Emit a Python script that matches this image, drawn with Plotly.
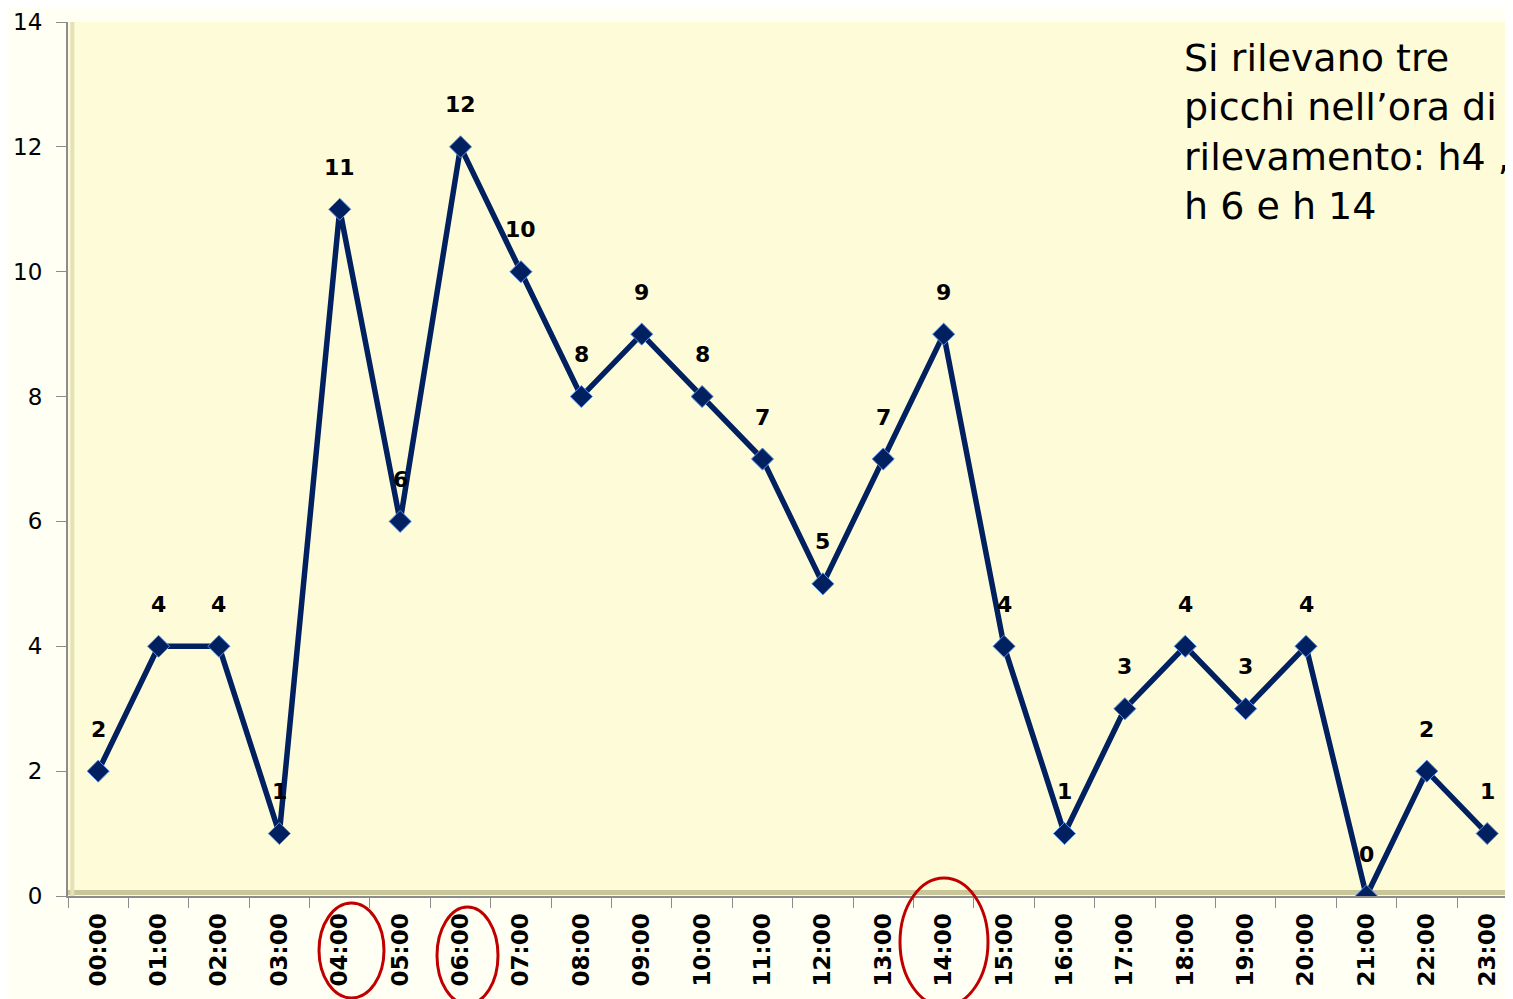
import plotly.graph_objects as go

hours = [f"{h:02d}:00" for h in range(24)]
counts = [2, 4, 4, 1, 11, 6, 12, 10, 8, 9, 8, 7, 5, 7, 9, 4, 1, 3, 4, 3, 4, 0, 2, 1]
y_ticks = [0, 2, 4, 6, 8, 10, 12, 14]
note = "Si rilevano tre<br>picchi nell’ora di<br>rilevamento: h4 ,<br>h 6 e h 14"
circled = ["04:00", "06:00", "14:00"]

OFF = 8  # page body margin
W, H = 1513 - OFF, 999 - OFF
L, T = 68 - OFF, 22 - OFF
pw, ph = 1445, 874
R, B = W - L - pw, H - T - ph

def px(x):
    return (x - OFF - L) / pw

def py(y):
    return (T + ph - (y - OFF)) / ph

fig = go.Figure()
fig.add_trace(go.Scatter(
    x=hours, y=counts, mode="lines+markers",
    line=dict(color="#002060", width=5.5),
    marker=dict(symbol="diamond", size=17, color="#002060",
                line=dict(color="#5B8FE8", width=1)),
    hoverinfo="x+y", showlegend=False,
))

for h, v in zip(hours, counts):
    fig.add_annotation(x=h, y=v, text=f"<b>{v}</b>", showarrow=False,
                       yshift=42, font=dict(family="DejaVu Sans", size=22, color="black"))

fig.add_annotation(xref="paper", yref="paper", x=px(1182), y=py(34), xanchor="left",
                   yanchor="top", align="left", text=note, showarrow=False,
                   font=dict(family="DejaVu Sans", size=38, color="black"))

ellipses = {"04:00": (319, 384, 903, 998), "06:00": (437, 498, 907, 1004), "14:00": (900, 988, 878, 1006)}
for c in circled:
    x0, x1, y0, y1 = ellipses[c]
    fig.add_shape(type="circle", xref="paper", yref="paper",
                  x0=px(x0), x1=px(x1), y0=py(y1), y1=py(y0),
                  line=dict(color="#C00000", width=3))

# bevel shadow of plot area
fig.add_shape(type="line", xref="paper", yref="paper", x0=0, x1=1, y0=0.004, y1=0.004,
              line=dict(color="#C9C69A", width=5), layer="below")
fig.add_shape(type="line", xref="paper", yref="paper", x0=0.003, x1=0.003, y0=0, y1=1,
              line=dict(color="#E4E1B8", width=4), layer="below")

fig.update_xaxes(
    type="category", range=[-0.5, -0.5 + pw / ((1487 - 98) / 23)],
    tickangle=-90, tickson="boundaries", ticks="outside", ticklen=10,
    tickcolor="#8C8C8C", showline=True, linecolor="#8C8C8C", linewidth=2,
    showgrid=False, zeroline=False, ticklabelstandoff=6,
    tickfont=dict(family="DejaVu Sans", size=23, color="black", weight="bold"),
)
fig.update_yaxes(
    range=[0, 14], tickvals=y_ticks, ticks="outside", ticklen=10,
    tickcolor="#8C8C8C", showline=True, linecolor="#8C8C8C", linewidth=2,
    showgrid=False, zeroline=False, ticklabelstandoff=9,
    tickfont=dict(family="DejaVu Sans", size=23, color="black"),
)
fig.update_layout(
    width=W, height=H, margin=dict(l=L, r=R, t=T, b=B, autoexpand=False),
    paper_bgcolor="#FFFFF3", plot_bgcolor="#FEFCD8",
)
fig.write_html("out.html")
